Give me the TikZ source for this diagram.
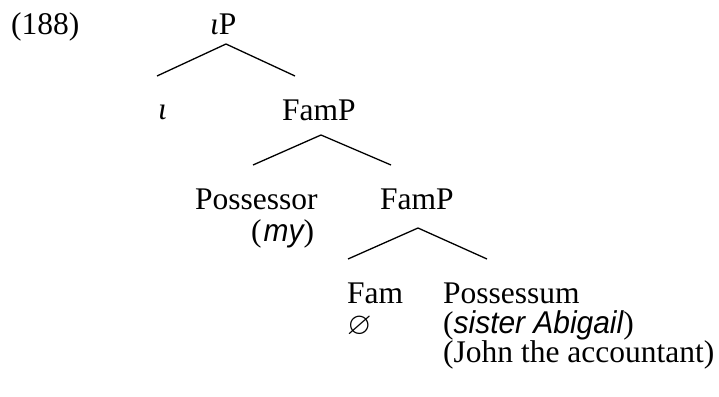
\documentclass[tikz,border=0pt]{standalone}
\usepackage{amssymb}
\usepackage{fontspec}
\setmainfont{Liberation Serif}
\newfontfamily\nsans[FakeStretch=0.95]{Liberation Sans}
\begin{document}
\begin{tikzpicture}[x=1pt,y=-1pt,
  lbl/.style={inner sep=0pt,anchor=base west,font=\fontsize{31.5}{38}\selectfont},
  branch/.style={line width=1.3pt}]
\useasboundingbox (0,0) rectangle (719,396);
\node[lbl] (ex) at (11,35) {(188)};
\node[lbl] (iP) at (210,35) {\textit{ι}P};
\node[lbl] (iota) at (158,119) {\textit{ι}};
\node[lbl] (famP1) at (282,120) {FamP};
\node[lbl] (poss) at (195,209) {Possessor};
\node[lbl] (my) at (251,241) {(\kern2pt{\nsans\itshape my})};
\node[lbl] (famP2) at (380,209) {FamP};
\node[lbl] (fam) at (347,303) {Fam};
\node[lbl] (possum) at (443,303) {Possessum};
\node[lbl] (empty) at (347,334) {\smash{$\varnothing$}};
\node[lbl] (sister) at (443,333) {({\nsans\itshape sister Abigail})};
\node[lbl] (john) at (443,362) {(John the accountant)};
\coordinate (t1) at (226,44);
\coordinate (l1) at (157,76);
\coordinate (r1) at (295,76);
\coordinate (t2) at (321,135);
\coordinate (l2) at (253,165);
\coordinate (r2) at (391,165);
\coordinate (t3) at (418,228);
\coordinate (l3) at (348,259);
\coordinate (r3) at (487,259);
\draw[branch] (l1) -- (t1) -- (r1);
\draw[branch] (l2) -- (t2) -- (r2);
\draw[branch] (l3) -- (t3) -- (r3);
\end{tikzpicture}
\end{document}
